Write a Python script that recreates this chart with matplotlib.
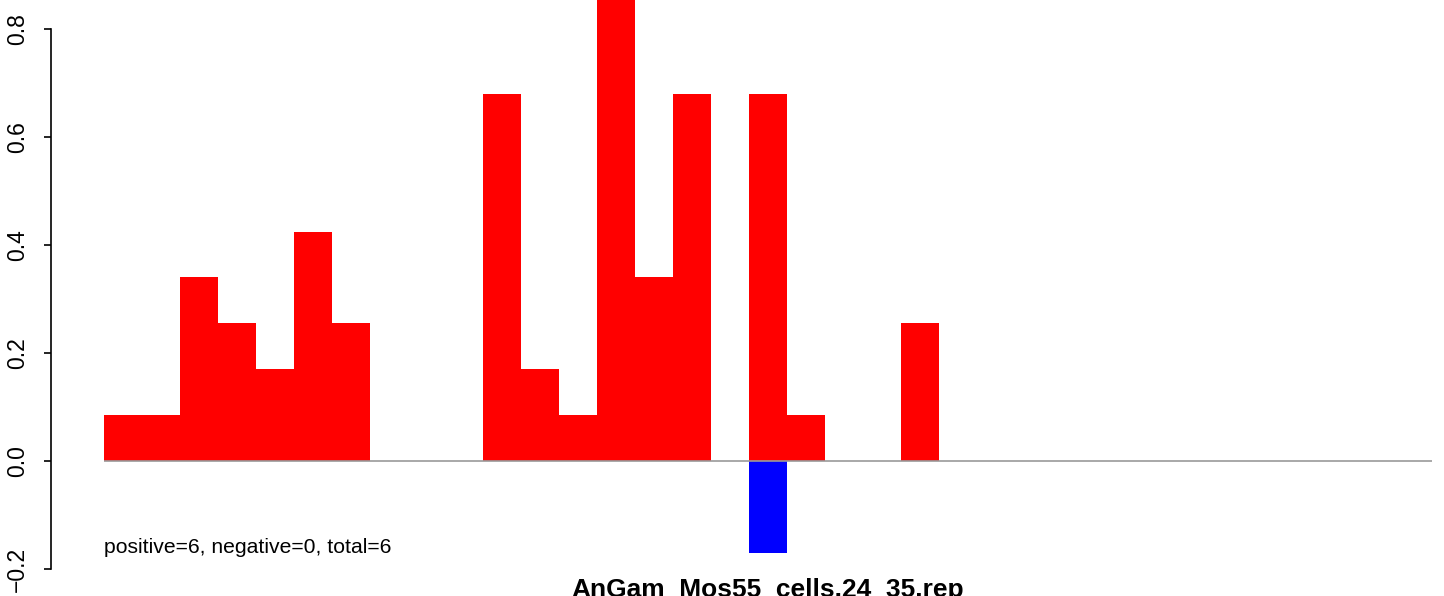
import numpy as np
import matplotlib
matplotlib.use("Agg")
import matplotlib.pyplot as plt

plt.rcParams['font.family'] = ['Liberation Sans', 'DejaVu Sans']

# per-bin scores (35 bins)
positive = [0.085, 0.085, 0.34, 0.255, 0.17, 0.425, 0.255, 0, 0, 0,
            0.68, 0.17, 0.085, 0.90, 0.34, 0.68, 0, 0.68, 0.085, 0,
            0, 0.255, 0, 0, 0, 0, 0, 0, 0, 0,
            0, 0, 0, 0, 0]
negative = [0, 0, 0, 0, 0, 0, 0, 0, 0, 0,
            0, 0, 0, 0, 0, 0, 0, -0.17, 0, 0,
            0, 0, 0, 0, 0, 0, 0, 0, 0, 0,
            0, 0, 0, 0, 0]
yticks = [-0.2, 0.0, 0.2, 0.4, 0.6, 0.8]
summary = "positive=6, negative=0, total=6"
title = "AnGam_Mos55_cells.24_35.rep"

W, H = 1444, 596
fig = plt.figure(figsize=(W / 100, H / 100), dpi=100)

n = len(positive)
# plot region as R lays it out: 4% padding around the bars
left_px, right_px = 51, 1485
top_px, bottom_px = 0, 580
ax = fig.add_axes([left_px / W, 1 - bottom_px / H,
                   (right_px - left_px) / W, (bottom_px - top_px) / H])
ax.set_xlim(-0.04 * n, n * 1.04)
ax.set_ylim((461 - bottom_px) / 540, 461 / 540)

x = np.arange(n)
ax.bar(x, positive, width=1, align='edge', color='red', linewidth=0)
ax.bar(x, negative, width=1, align='edge', color='blue', linewidth=0)
ax.hlines(0, 0, n, color='#999999', linewidth=1.2)

for s in ['top', 'right', 'bottom']:
    ax.spines[s].set_visible(False)
ax.spines['left'].set_bounds(yticks[0], yticks[-1])
ax.spines['left'].set_linewidth(1.2)
ax.set_xticks([])
ax.set_yticks(yticks)
ax.set_yticklabels(['\u22120.2', '0.0', '0.2', '0.4', '0.6', '0.8'],
                   rotation=90, va='center', fontsize=16.5)
ax.tick_params(axis='y', length=5, width=1.2, pad=11)

ax.text(0, -0.16, summary, fontsize=15.2, ha='left', va='center')
fig.text(768 / W, 1 - 578 / H, title, ha='center', va='top',
         fontsize=19, fontweight='bold')

fig.savefig('out.png', dpi=100)
